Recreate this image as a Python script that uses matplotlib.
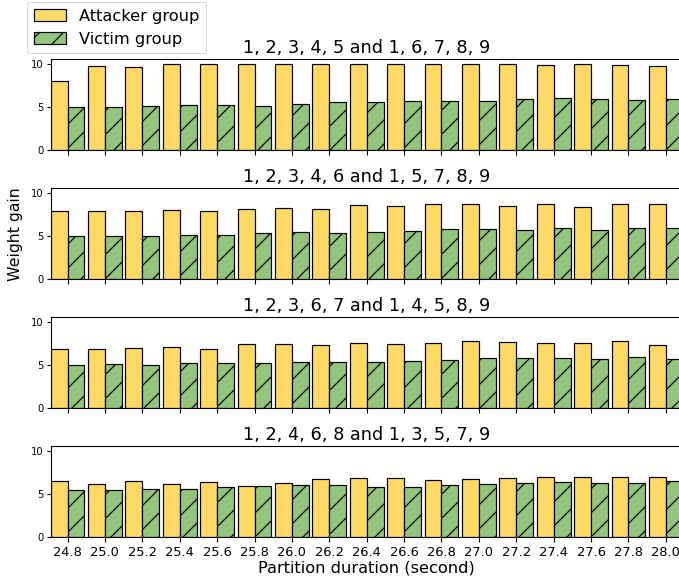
import numpy as np
import matplotlib
matplotlib.use("Agg")
import matplotlib.pyplot as plt

# partition durations (seconds)
durations = ["24.8", "25.0", "25.2", "25.4", "25.6", "25.8", "26.0", "26.2", "26.4",
             "26.6", "26.8", "27.0", "27.2", "27.4", "27.6", "27.8", "28.0"]

titles = ["1, 2, 3, 4, 5 and 1, 6, 7, 8, 9",
          "1, 2, 3, 4, 6 and 1, 5, 7, 8, 9",
          "1, 2, 3, 6, 7 and 1, 4, 5, 8, 9",
          "1, 2, 4, 6, 8 and 1, 3, 5, 7, 9"]

# weight gain
attacker_1 = [7.94, 9.73, 9.66, 9.96, 10.0, 10.0, 9.92, 10.0, 10.0, 10.0, 9.92, 10.0, 9.92, 9.85, 9.92, 9.81, 9.77]
victim_1 = [4.96, 5.0, 5.11, 5.23, 5.27, 5.15, 5.34, 5.57, 5.53, 5.65, 5.69, 5.73, 5.95, 5.99, 5.95, 5.8, 5.92]

attacker_2 = [7.88, 7.92, 7.92, 8.0, 7.88, 8.12, 8.23, 8.12, 8.58, 8.46, 8.65, 8.73, 8.46, 8.65, 8.38, 8.73, 8.69]
victim_2 = [5.0, 5.04, 5.0, 5.12, 5.12, 5.35, 5.42, 5.35, 5.5, 5.58, 5.77, 5.77, 5.65, 5.88, 5.69, 5.88, 5.88]

attacker_3 = [6.9, 6.9, 6.97, 7.09, 6.9, 7.39, 7.39, 7.32, 7.51, 7.39, 7.59, 7.78, 7.7, 7.59, 7.59, 7.78, 7.32]
victim_3 = [5.02, 5.06, 5.02, 5.25, 5.17, 5.17, 5.36, 5.36, 5.36, 5.44, 5.59, 5.82, 5.82, 5.82, 5.71, 5.94, 5.71]

attacker_4 = [6.44, 6.13, 6.51, 6.13, 6.36, 5.9, 6.28, 6.67, 6.9, 6.9, 6.59, 6.67, 6.86, 6.97, 6.97, 6.93, 6.93]
victim_4 = [5.48, 5.48, 5.59, 5.59, 5.82, 5.94, 5.98, 6.05, 5.82, 5.82, 6.05, 6.17, 6.32, 6.36, 6.32, 6.21, 6.44]

attackers = [attacker_1, attacker_2, attacker_3, attacker_4]
victims = [victim_1, victim_2, victim_3, victim_4]

yellow = "#FFD966"
green = "#93C47D"
width = 0.45

# dpi 72 so that sizes in points equal pixels (and hatches come out denser)
DPI = 72
W, H = 679, 583
plt.rcParams["axes.linewidth"] = 1.1
plt.rcParams["hatch.linewidth"] = 1.2
fig = plt.figure(figsize=(W / DPI, H / DPI), dpi=DPI)

x = np.arange(len(durations))
left = 50.7 / W
axw = 632 / W
tops = [59.3, 188.3, 317.3, 446.3]
axh = 91 / H

axes = []
for i in range(4):
    ax = fig.add_axes([left, 1 - (tops[i] / H) - axh, axw, axh],
                      sharey=axes[0] if axes else None)
    axes.append(ax)
    ax.bar(x, attackers[i], -width, align="edge", color=yellow,
           edgecolor="black", linewidth=1.2, label="Attacker group")
    ax.bar(x, victims[i], width, align="edge", color=green,
           edgecolor="black", linewidth=1.2, hatch="/", label="Victim group")
    ax.set_title(titles[i], fontsize=17.6, pad=6)
    ax.set_xlim(-width, len(durations) - 1 + width)
    ax.set_xticks(x)
    ax.set_yticks([0, 5, 10])
    ax.tick_params(length=4.5, width=1.1)
    ax.tick_params(axis="y", labelsize=10, pad=3)
    ax.tick_params(axis="x", labelsize=13, pad=4)
    if i < 3:
        ax.set_xticklabels([])
    else:
        ax.set_xticklabels(durations)
        ax.set_xlabel("Partition duration (second)", fontsize=16.3, labelpad=2)

axes[1].set_ylabel("Weight gain", fontsize=15.8, labelpad=8)

handles, labels = axes[0].get_legend_handles_labels()
fig.legend(handles, labels, loc="upper left", bbox_to_anchor=(27 / W, 1 - 2 / H),
           borderaxespad=0, fontsize=16.3)

fig.savefig("out.png", dpi=DPI)
